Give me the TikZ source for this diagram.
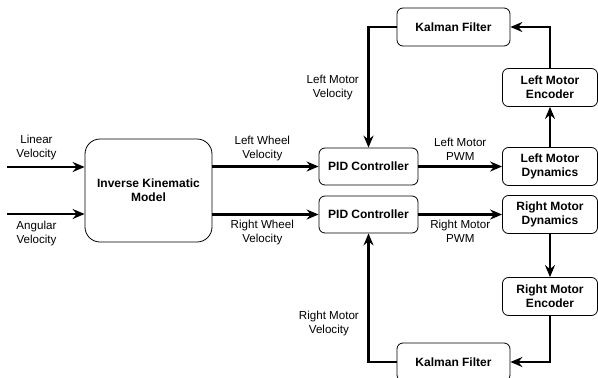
\documentclass[tikz,border=0pt]{standalone}
\usepackage{fontspec}
\setmainfont{Liberation Sans}
\usetikzlibrary{arrows.meta}

\begin{document}
\begin{tikzpicture}[x=1pt,y=-1pt,
		blockbox/.style={draw,thick,rounded corners=6pt,align=center,font=\fontsize{12}{14}\selectfont\bfseries,minimum width=95pt,minimum height=38pt,inner sep=0pt},
		flow/.style={line width=2.6pt,-{Stealth[length=12pt,width=10pt,inset=4pt]}},
		lbl/.style={align=center,font=\fontsize{11.6}{14}\selectfont}]
			\useasboundingbox (0,0) rectangle (598,378);
			% blocks
			\node[blockbox,rounded corners=15pt,minimum width=127pt,minimum height=103pt] (ikm) at (148.5,190.5) {Inverse Kinematic\\Model};
			\node[blockbox,minimum width=99pt,minimum height=37pt] (pidL) at (368.5,166.5) {PID Controller};
			\node[blockbox,minimum width=99pt,minimum height=37pt] (pidR) at (368.5,214.5) {PID Controller};
			\node[blockbox] (lmd) at (550,166.5) {Left Motor\\Dynamics};
			\node[blockbox] (rmd) at (550,214.5) {Right Motor\\Dynamics};
			\node[blockbox] (lme) at (550,87.5) {Left Motor\\Encoder};
			\node[blockbox] (rme) at (550,296.5) {Right Motor\\Encoder};
			\node[blockbox,minimum width=113pt] (kfT) at (453.5,27) {Kalman Filter};
			\node[blockbox,minimum width=113pt] (kfB) at (453.5,362) {Kalman Filter};
			% inputs
			\coordinate (linS) at (7,167);
			\coordinate (angS) at (7,214);
			\draw[flow] (linS) -- node[lbl,above=2pt,pos=0.38] (linL) {Linear\\Velocity} (linS -| ikm.west);
			\draw[flow] (angS) -- node[lbl,below=2pt,pos=0.38] (angL) {Angular\\Velocity} (angS -| ikm.west);
			% wheel velocities
			\draw[flow] (pidL.west -| ikm.east) -- node[lbl,above=1pt,pos=0.47] (lwv) {Left Wheel\\Velocity} (pidL.west);
			\draw[flow] (pidR.west -| ikm.east) -- node[lbl,below=1pt,pos=0.47] (rwv) {Right Wheel\\Velocity} (pidR.west);
			% pwm
			\draw[flow] (pidL) -- node[lbl,above=1pt] (lpwm) {Left Motor\\PWM} (lmd);
			\draw[flow] (pidR) -- node[lbl,below=1pt] (rpwm) {Right Motor\\PWM} (rmd);
			% feedback loops
			\draw[flow] (lmd) -- (lme);
			\draw[flow] (rmd) -- (rme);
			\draw[flow] (lme.north) |- (kfT.east);
			\draw[flow] (rme.south) |- (kfB.east);
			\draw[flow] (kfT.west) -| node[lbl,left=5pt,pos=0.75] (lmv) {Left Motor\\Velocity} (pidL.north);
			\draw[flow] (kfB.west) -| node[lbl,left=5pt,pos=0.65] (rmv) {Right Motor\\Velocity} (pidR.south);
		\end{tikzpicture}
\end{document}
